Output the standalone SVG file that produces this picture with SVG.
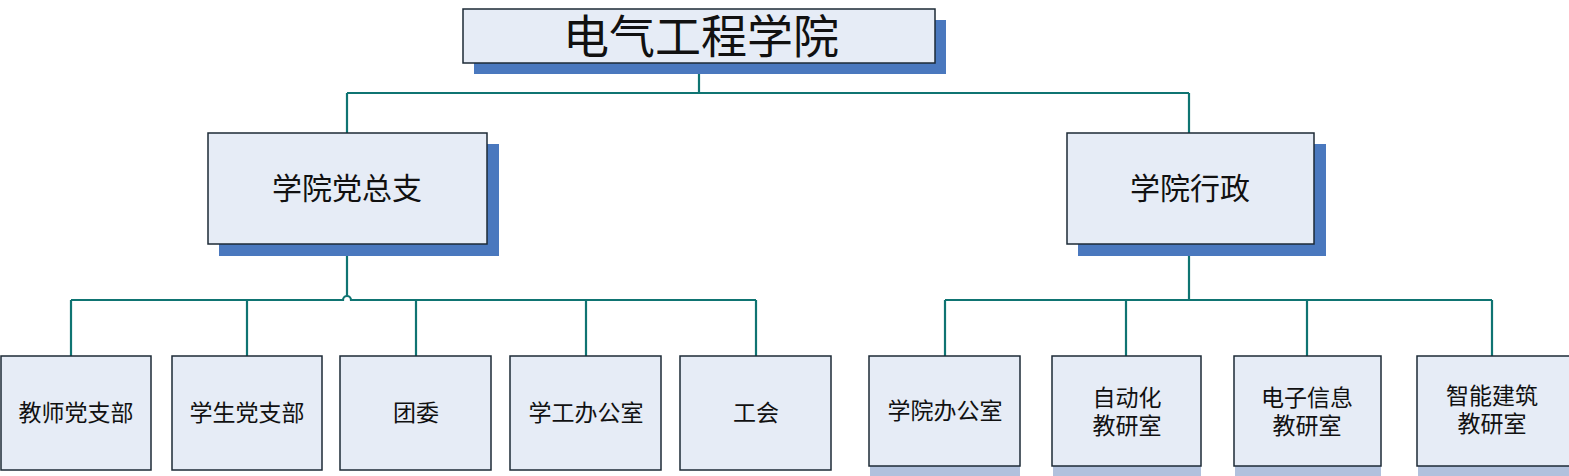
<svg xmlns="http://www.w3.org/2000/svg" width="1569" height="476" viewBox="0 0 1569 476">
<defs>
<style>
.shadow{fill:#4a78be}
.box{fill:#e6ecf6;stroke:#1c2a36;stroke-width:1.5}
.strip{fill:#b1c1dd;stroke:none}
.t{font-family:"Liberation Sans","Noto Sans CJK SC",sans-serif;fill:#111;text-anchor:middle;dominant-baseline:central}
.t1{font-size:46px}
.t2{font-size:30px}
.t3{font-size:23px}
.conn{fill:none;stroke:#0f7472;stroke-width:2.2}
</style>
</defs>
<rect width="1569" height="476" fill="#ffffff"/>
<g id="connectors">
<path class="conn" d="M699 63V93M347 93H1189M347 93V133M1189 93V133"/>
<path class="conn" d="M347 244V296M71 300H343A4 4 0 0 1 351 300H756M71 300V356M247 300V356M416 300V356M586 300V356M756 300V356"/>
<path class="conn" d="M1189 244V300M945 300H1492M945 300V356M1126 300V356M1307 300V356M1492 300V356"/>
</g>
<g id="n-root">
<rect class="shadow" x="474" y="20" width="472" height="54"/>
<rect class="box" x="463" y="9" width="472" height="54"/>
<text class="t t1" x="701" y="37">电气工程学院</text>
</g>
<g id="n-dangzongzhi">
<rect class="shadow" x="219" y="144" width="280" height="112"/>
<rect class="box" x="208" y="133" width="279" height="111"/>
<text class="t t2" x="347" y="188">学院党总支</text>
</g>
<g id="n-xingzheng">
<rect class="shadow" x="1078" y="144" width="248" height="112"/>
<rect class="box" x="1067" y="133" width="247" height="111"/>
<text class="t t2" x="1190" y="188">学院行政</text>
</g>
<g id="n-jiaoshi">
<rect class="box" x="1" y="356" width="150" height="114"/>
<text class="t t3" x="76" y="413">教师党支部</text>
</g>
<g id="n-xuesheng">
<rect class="box" x="172" y="356" width="150" height="114"/>
<text class="t t3" x="247" y="413">学生党支部</text>
</g>
<g id="n-tuanwei">
<rect class="box" x="340" y="356" width="151" height="114"/>
<text class="t t3" x="416" y="413">团委</text>
</g>
<g id="n-xuegong">
<rect class="box" x="510" y="356" width="151" height="114"/>
<text class="t t3" x="586" y="413">学工办公室</text>
</g>
<g id="n-gonghui">
<rect class="box" x="680" y="356" width="151" height="114"/>
<text class="t t3" x="756" y="413">工会</text>
</g>
<g id="n-bangongshi">
<rect class="strip" x="870" y="466" width="150" height="12"/>
<rect class="box" x="869" y="356" width="151" height="110"/>
<text class="t t3" x="945" y="411">学院办公室</text>
</g>
<g id="n-zidonghua">
<rect class="strip" x="1053" y="466" width="148" height="12"/>
<rect class="box" x="1052" y="356" width="149" height="110"/>
<text class="t t3" x="1127" y="398">自动化</text>
<text class="t t3" x="1127" y="426">教研室</text>
</g>
<g id="n-dianzi">
<rect class="strip" x="1235" y="466" width="146" height="12"/>
<rect class="box" x="1234" y="356" width="147" height="110"/>
<text class="t t3" x="1307" y="398">电子信息</text>
<text class="t t3" x="1307" y="426">教研室</text>
</g>
<g id="n-zhineng">
<rect class="strip" x="1418" y="466" width="151" height="12"/>
<rect class="box" x="1417" y="356" width="155" height="110"/>
<text class="t t3" x="1492" y="396">智能建筑</text>
<text class="t t3" x="1492" y="424">教研室</text>
</g>
</svg>
